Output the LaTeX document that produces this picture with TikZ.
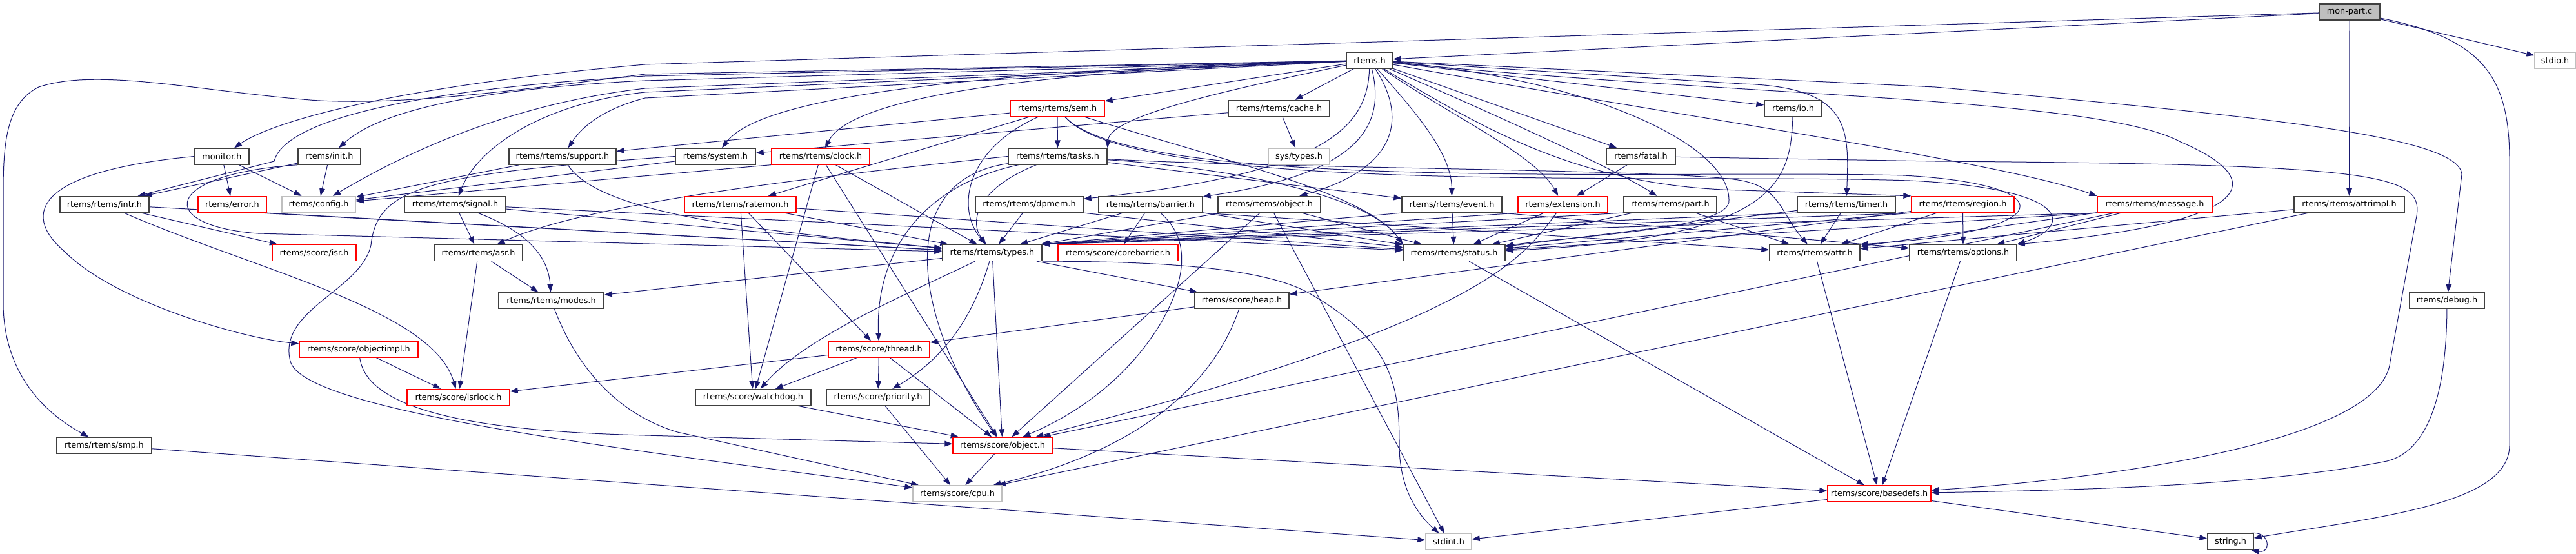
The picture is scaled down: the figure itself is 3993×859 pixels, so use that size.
\documentclass[tikz,border=0pt]{standalone}
\usepackage{fontspec}
\setmainfont{DejaVu Sans}
\usepackage{xcolor}
\usepackage{tikz}
\usetikzlibrary{arrows.meta}
\definecolor{linkblue}{RGB}{25,25,112}
\definecolor{extgray}{RGB}{191,191,191}
\definecolor{hdrline}{RGB}{64,64,64}
\pgfdeclarelayer{bg}
\pgfsetlayers{bg,main}

\begin{document}
\begin{tikzpicture}[x=0.75pt,y=-0.75pt,
		font=\fontsize{9.6}{11.5}\selectfont,
		hdr/.style={draw=hdrline,line width=1pt,fill=white,minimum height=18.75pt,inner sep=0pt},
		trunc/.style={hdr,draw=red},
		ext/.style={hdr,draw=extgray},
		src/.style={hdr,fill=extgray},
		wd/.style={minimum width=#1*0.75pt},
		incl/.style={draw=linkblue,line width=0.75pt,-{Triangle[length=9pt,width=6.5pt]}}]
		% tamaño de la imagen
		\useasboundingbox (0,0) rectangle (3993,859);
		
		% fichero fuente y cabeceras de primer nivel
		\node[src,wd=94] (mon) at (3642,18.5) {mon-part.c};
		\node[hdr,wd=72] (rtems) at (2123,93.5) {rtems.h};
		\node[ext,wd=63] (stdio) at (3960.5,93.5) {stdio.h};
		
		% fila 2
		\node[trunc,wd=146] (sem) at (1639,168) {rtems/rtems/sem.h};
		\node[hdr,wd=157] (cache) at (1982.5,168) {rtems/rtems/cache.h};
		\node[hdr,wd=89] (io) at (2779.5,168) {rtems/io.h};
		
		% fila 3
		\node[hdr,wd=84] (monitor) at (344,242.5) {monitor.h};
		\node[hdr,wd=97] (init) at (510.5,242.5) {rtems/init.h};
		\node[hdr,wd=166] (support) at (872,242.5) {rtems/rtems/support.h};
		\node[hdr,wd=124] (system) at (1109,242.5) {rtems/system.h};
		\node[trunc,wd=152] (clock) at (1272,242.5) {rtems/rtems/clock.h};
		\node[hdr,wd=153] (tasks) at (1639.5,242.5) {rtems/rtems/tasks.h};
		\node[ext,wd=95] (systypes) at (2013.5,242.5) {sys/types.h};
		\node[hdr,wd=107] (fatal) at (2543.5,242.5) {rtems/fatal.h};
		
		% fila 4
		\node[hdr,wd=138] (intr) at (162,317) {rtems/rtems/intr.h};
		\node[trunc,wd=106] (error) at (360,317) {rtems/error.h};
		\node[ext,wd=114] (config) at (494,317) {rtems/config.h};
		\node[hdr,wd=157] (signal) at (705.5,317) {rtems/rtems/signal.h};
		\node[trunc,wd=173] (ratemon) at (1147.5,317) {rtems/rtems/ratemon.h};
		\node[hdr,wd=167] (dpmem) at (1595.5,317) {rtems/rtems/dpmem.h};
		\node[hdr,wd=161] (barrier) at (1783.5,317) {rtems/rtems/barrier.h};
		\node[hdr,wd=159] (object) at (1967.5,317) {rtems/rtems/object.h};
		\node[hdr,wd=155] (event) at (2250.5,317) {rtems/rtems/event.h};
		\node[trunc,wd=139] (extension) at (2422.5,317) {rtems/extension.h};
		\node[hdr,wd=144] (part) at (2589,317) {rtems/rtems/part.h};
		\node[hdr,wd=152] (timer) at (2862,317) {rtems/rtems/timer.h};
		\node[trunc,wd=159] (region) at (3042.5,317) {rtems/rtems/region.h};
		\node[trunc,wd=178] (message) at (3340,317) {rtems/rtems/message.h};
		\node[hdr,wd=171] (attrimpl) at (3641.5,317) {rtems/rtems/attrimpl.h};
		
		% fila 5
		\node[trunc,wd=130] (isr) at (487,392) {rtems/score/isr.h};
		\node[hdr,wd=137] (asr) at (741.5,392) {rtems/rtems/asr.h};
		\node[hdr,wd=154] (types) at (1538,392) {rtems/rtems/types.h};
		\node[trunc,wd=186] (corebarrier) at (1733,392) {rtems/score/corebarrier.h};
		\node[hdr,wd=158] (status) at (2254,392) {rtems/rtems/status.h};
		\node[hdr,wd=140] (attr) at (2813,392) {rtems/rtems/attr.h};
		\node[hdr,wd=166] (options) at (3043,392) {rtems/rtems/options.h};
		
		% filas 6 a 11
		\node[hdr,wd=163] (modes) at (854.5,466) {rtems/rtems/modes.h};
		\node[hdr,wd=146] (heap) at (1925,466) {rtems/score/heap.h};
		\node[hdr,wd=116] (debug) at (3793,466) {rtems/debug.h};
		\node[trunc,wd=184] (objectimpl) at (556,541.5) {rtems/score/objectimpl.h};
		\node[trunc,wd=157] (thread) at (1362.5,541.5) {rtems/score/thread.h};
		\node[trunc,wd=159] (isrlock) at (710.5,616) {rtems/score/isrlock.h};
		\node[hdr,wd=179] (watchdog) at (1167.5,616) {rtems/score/watchdog.h};
		\node[hdr,wd=160] (priority) at (1361,616) {rtems/score/priority.h};
		\node[hdr,wd=147] (smp) at (161.5,690.5) {rtems/rtems/smp.h};
		\node[trunc,wd=154] (sobject) at (1554,690.5) {rtems/score/object.h};
		\node[ext,wd=138] (cpu) at (1484,765.5) {rtems/score/cpu.h};
		\node[trunc,wd=160] (basedefs) at (2913,765.5) {rtems/score/basedefs.h};
		\node[ext,wd=71] (stdint) at (2245.5,840) {stdint.h};
		\node[hdr,wd=71] (str) at (3457.5,840) {string.h};
		
		\begin{pgfonlayer}{bg}
			\fill[white] (0,0) rectangle (3993,859);
			
			% inclusiones en línea recta
			\foreach \a/\b in {mon/rtems, mon/attrimpl, mon/stdio,
				rtems/sem, rtems/cache, rtems/io, rtems/fatal,
				sem/tasks, sem/support, sem/ratemon,
				cache/systypes, cache/system,
				monitor/error, monitor/config, init/config, init/intr,
				support/config, system/config,
				clock/types, clock/watchdog, clock/sobject,
				tasks/event, fatal/extension,
				intr/isr, intr/types,
				signal/asr, signal/types, signal/status,
				ratemon/watchdog, ratemon/thread, ratemon/types, ratemon/status,
				dpmem/types, barrier/types, barrier/corebarrier, barrier/status,
				object/types, object/status, object/sobject, object/stdint,
				event/status, extension/status,
				part/status, part/attr, timer/status, timer/attr,
				region/attr, region/options, region/heap,
				message/attr, message/options, message/sobject,
				attrimpl/attr, attrimpl/cpu,
				asr/modes, asr/isrlock,
				types/modes, types/heap, types/sobject,
				status/basedefs, attr/basedefs, options/basedefs,
				heap/thread, objectimpl/isrlock,
				thread/watchdog, thread/priority, thread/sobject, thread/isrlock,
				watchdog/sobject, priority/cpu,
				smp/stdint, sobject/cpu, sobject/basedefs,
				basedefs/stdint, basedefs/str}
				\draw[incl] (\a) -- (\b);
			
			% salidas por las esquinas de abajo
			\foreach \a/\b in {clock/config, region/status, message/status}
				\draw[incl] (\a.south west) -- (\b);
			\foreach \a in {event, extension, part, timer, region, message}
				\draw[incl] (\a.south west) -- (types.north east);
			\foreach \a/\b in {error/types, dpmem/status, barrier/attr, event/options}
				\draw[incl] (\a.south east) -- (\b);
			
			% rtems.h hacia la izquierda
			\draw[incl] (rtems) -- (1000,115) .. controls (800,140) and (620,165) .. (480,155) .. controls (300,140) and (150,105) .. (60,135) .. controls (10,160) and (5,220) .. (5,300) -- (5,470) .. controls (5,560) and (50,630) .. (smp);
			\draw[incl] (rtems) -- (1000,118) .. controls (620,140) and (440,190) .. (425,250) -- (intr);
			\draw[incl] (rtems) -- (1000,125) .. controls (700,140) and (580,180) .. (init);
			\draw[incl] (rtems) -- (1000,137) .. controls (800,160) and (640,230) .. (config);
			\draw[incl] (rtems) -- (1000,143) .. controls (840,160) and (740,230) .. (signal);
			\draw[incl] (rtems) -- (1000,152) .. controls (930,170) and (900,200) .. (support);
			\draw[incl] (rtems) .. controls (1500,110) and (1180,150) .. (system);
			\draw[incl] (rtems) .. controls (1600,110) and (1320,150) .. (clock);
			\draw[incl] (rtems) .. controls (1900,140) and (1720,180) .. (tasks.north east);
			
			% rtems.h hacia abajo y a la derecha
			\draw[incl] (rtems) .. controls (2120,200) and (2050,270) .. (dpmem);
			\draw[incl] (rtems) .. controls (2150,200) and (2100,270) .. (barrier);
			\draw[incl] (rtems) .. controls (2180,180) and (2170,260) .. (object);
			\draw[incl] (rtems) .. controls (2200,180) and (2250,240) .. (event);
			\draw[incl] (rtems) .. controls (2250,180) and (2380,240) .. (extension);
			\draw[incl] (rtems) .. controls (2300,170) and (2500,260) .. (part);
			\draw[incl] (rtems) .. controls (2450,120) and (2680,220) .. (2680,310) .. controls (2685,355) and (2450,365) .. (status);
			\draw[incl] (rtems) -- (2700,130) .. controls (2870,135) and (2866,200) .. (timer);
			\draw[incl] (rtems) .. controls (2300,200) and (2450,290) .. (2700,295) -- (region.north west);
			\draw[incl] (rtems) .. controls (2600,180) and (3100,250) .. (message.north west);
			\draw[incl] (rtems) .. controls (2700,150) and (3250,150) .. (3380,220) .. controls (3520,280) and (3500,345) .. (options.north east);
			\draw[incl] (rtems) -- (3000,135) .. controls (3500,180) and (3810,210) .. (3816,270) -- (debug);
			
			% mon-part.c
			\draw[incl] (mon) -- (1000,100) .. controls (600,135) and (420,190) .. (monitor);
			\draw[incl] (mon) .. controls (3850,60) and (3890,120) .. (3890,250) -- (3890,690) .. controls (3890,780) and (3700,800) .. (str);
			\draw[incl] ([xshift=-5pt]str.north east) .. controls +(24pt,4pt) and +(24pt,-4pt) .. ([xshift=-3pt]str.south east);
			
			% sem.h y tasks.h
			\draw[incl] (sem) .. controls (1500,230) and (1480,320) .. (types);
			\draw[incl] (sem) .. controls (1900,250) and (2120,300) .. (status.north west);
			\draw[incl] (sem) .. controls (1760,300) and (2600,262) .. (2950,272) .. controls (3200,285) and (3200,360) .. (attr.north east);
			\draw[incl] (sem) .. controls (1760,305) and (2600,268) .. (2960,280) .. controls (3210,292) and (3215,350) .. (options.north east);
			\draw[incl] (tasks.west) .. controls (1200,280) and (900,320) .. (asr);
			\draw[incl] (tasks) .. controls (1420,290) and (1357,400) .. (thread);
			\draw[incl] (tasks) .. controls (1380,280) and (1420,500) .. (sobject);
			\draw[incl] (tasks) .. controls (1520,290) and (1500,340) .. (types);
			\draw[incl] (tasks) .. controls (1900,260) and (2120,300) .. (status.north west);
			\draw[incl] (tasks) .. controls (2000,262) and (2600,262) .. (2700,280) .. controls (2760,292) and (2760,330) .. (attr);
			
			% resto de curvas
			\draw[incl] (monitor.west) .. controls (60,265) and (30,330) .. (100,390) .. controls (180,470) and (380,525) .. (objectimpl);
			\draw[incl] (init.south west) .. controls (250,270) and (240,350) .. (400,362) -- (types);
			\draw[incl] (support) .. controls (930,335) and (1200,360) .. (types);
			\draw[incl] (system.west) .. controls (660,270) and (585,290) .. (575,380) .. controls (560,450) and (430,480) .. (450,560) .. controls (470,640) and (1000,700) .. (cpu);
			\draw[incl] (io) .. controls (2775,280) and (2760,370) .. (status);
			\draw[incl] (signal) .. controls (820,360) and (850,400) .. (modes);
			\draw[incl] (intr) .. controls (400,420) and (670,480) .. (isrlock);
			\draw[incl] (objectimpl) .. controls (570,650) and (800,670) .. (1000,675) -- (sobject);
			\draw[incl] (modes) .. controls (890,560) and (950,640) .. (1050,670) -- (cpu);
			\draw[incl] (heap) .. controls (1880,600) and (1760,700) .. (cpu);
			\draw[incl] (types) .. controls (1420,450) and (1250,520) .. (watchdog);
			\draw[incl] (types) .. controls (1520,450) and (1490,540) .. (priority);
			\draw[incl] (types.south east) .. controls (1800,405) and (1960,415) .. (2030,455) .. controls (2160,530) and (2169,600) .. (2169,690) .. controls (2169,760) and (2200,800) .. (stdint);
			\draw[incl] (barrier) .. controls (1845,370) and (1840,430) .. (1800,500) .. controls (1740,600) and (1650,650) .. (sobject);
			\draw[incl] (extension) .. controls (2360,400) and (2300,500) .. (sobject);
			\draw[incl] (fatal) -- (3000,250) .. controls (3700,255) and (3760,270) .. (3745,340) -- (3705,560) .. controls (3695,680) and (3300,740) .. (basedefs);
			\draw[incl] (debug) .. controls (3792,620) and (3760,700) .. (3700,715) .. controls (3500,755) and (3200,760) .. (basedefs);
		\end{pgfonlayer}
	\end{tikzpicture}
\end{document}
